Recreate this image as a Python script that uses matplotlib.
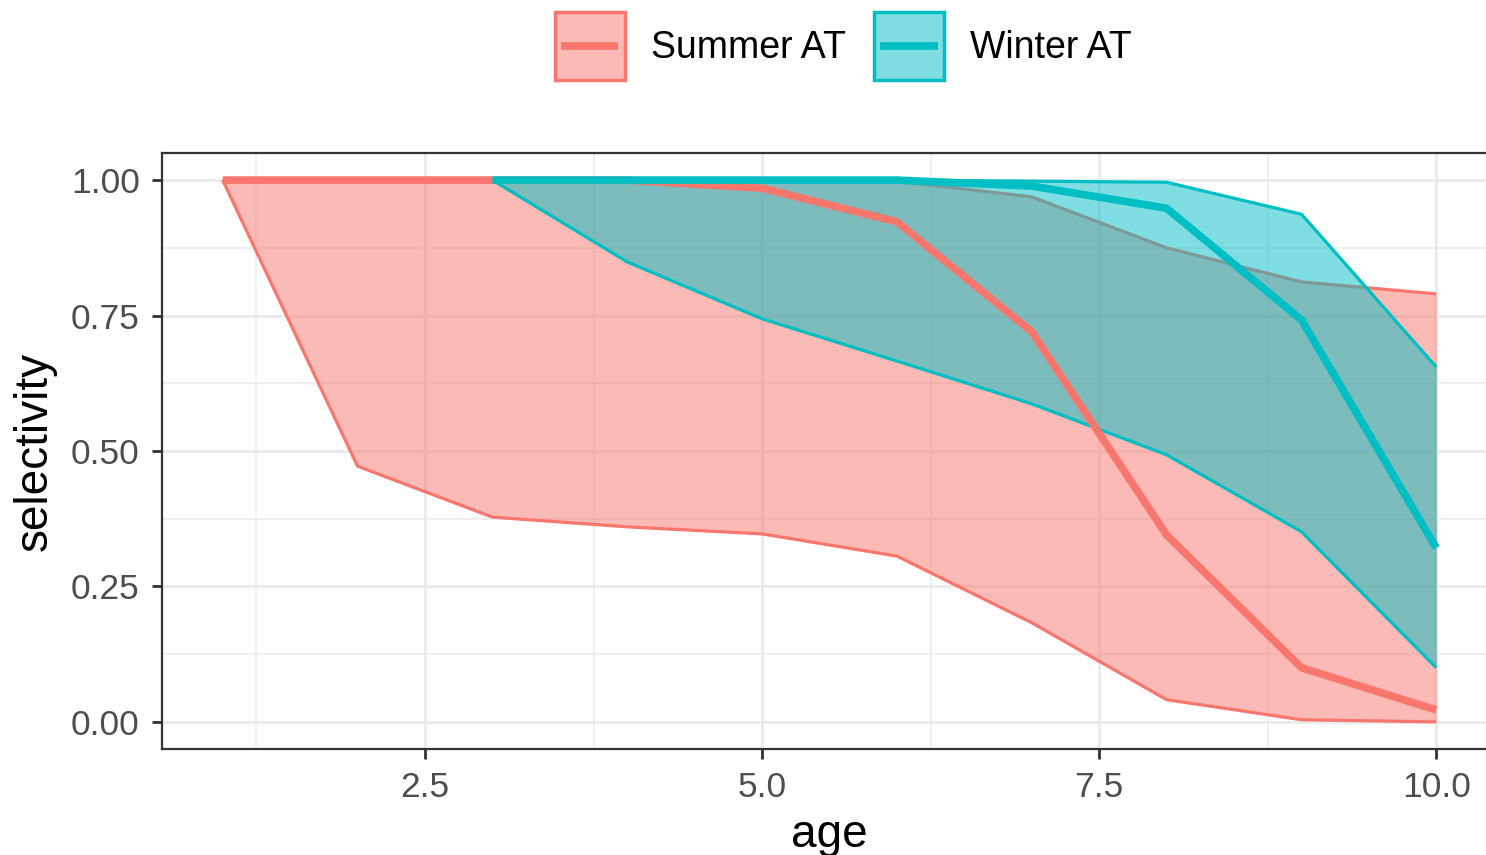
import matplotlib.pyplot as plt
from matplotlib.lines import Line2D
from matplotlib.patches import Patch, Rectangle
from matplotlib.legend_handler import HandlerBase
from matplotlib.ticker import MultipleLocator

plt.rcParams['font.family'] = ['Liberation Sans', 'DejaVu Sans']

# selectivity-at-age estimates: median with lower / upper bounds
summer_age = [1, 2, 3, 4, 5, 6, 7, 8, 9, 10]
summer_mid = [1.0, 1.0, 1.0, 1.0, 0.985, 0.923, 0.72, 0.345, 0.10, 0.022]
summer_lo = [1.0, 0.472, 0.378, 0.36, 0.347, 0.306, 0.183, 0.041, 0.004, 0.0]
summer_hi = [1.0, 1.0, 1.0, 1.0, 1.0, 0.998, 0.969, 0.875, 0.812, 0.79]

winter_age = [3, 4, 5, 6, 7, 8, 9, 10]
winter_mid = [1.0, 1.0, 1.0, 1.0, 0.989, 0.948, 0.742, 0.321]
winter_lo = [1.0, 0.849, 0.744, 0.666, 0.587, 0.493, 0.351, 0.10]
winter_hi = [1.0, 1.0, 1.0, 1.0, 0.998, 0.996, 0.937, 0.655]

SUMMER = '#F8766D'
WINTER = '#00BFC4'


class RibbonKey(HandlerBase):
    """Filled box with outline and a short line through the middle."""

    def create_artists(self, legend, orig_handle, xdescent, ydescent,
                       width, height, fontsize, trans):
        col = orig_handle.get_edgecolor()
        x0, y0 = -xdescent, -ydescent
        box = Rectangle((x0, y0), width, height, facecolor=col, alpha=0.5,
                        edgecolor='none', transform=trans)
        edge = Rectangle((x0, y0), width, height, facecolor='none',
                         edgecolor=col, lw=2.5, transform=trans)
        ym = y0 + height / 2
        line = Line2D([x0 + 0.09 * width, x0 + 0.91 * width], [ym, ym],
                      color=col, lw=5.5, solid_capstyle='butt', transform=trans)
        return [box, edge, line]


fig = plt.figure(figsize=(14.86, 8.55), dpi=100)
ax = fig.add_axes([162 / 1486, 1 - 749 / 855, (1497 - 162) / 1486, (749 - 153) / 855])

series = [
    ('Summer AT', summer_age, summer_mid, summer_lo, summer_hi, SUMMER),
    ('Winter AT', winter_age, winter_mid, winter_lo, winter_hi, WINTER),
]

# ribbons first, outlined along the top and bottom
for _, age, mid, lo, hi, col in series:
    ax.fill_between(age, lo, hi, color=col, alpha=0.5, linewidth=0, zorder=2)
    ax.plot(age, lo, color=col, lw=2.3, zorder=2, solid_capstyle='butt')
    ax.plot(age, hi, color=col, lw=2.3, zorder=2, solid_capstyle='butt')

# median lines on top
for _, age, mid, lo, hi, col in series:
    ax.plot(age, mid, color=col, lw=5.5, zorder=3, solid_capstyle='butt')

ax.set_xlim(0.55, 10.45)
ax.set_ylim(-0.05, 1.05)
ax.xaxis.set_minor_locator(MultipleLocator(1.25))
ax.yaxis.set_minor_locator(MultipleLocator(0.125))
ax.set_xticks([2.5, 5.0, 7.5, 10.0])
ax.set_xticklabels(['2.5', '5.0', '7.5', '10.0'])
ax.set_yticks([0, 0.25, 0.5, 0.75, 1.0])
ax.set_yticklabels(['0.00', '0.25', '0.50', '0.75', '1.00'])

ax.grid(which='major', color='#EBEBEB', lw=2.2, zorder=0)
ax.grid(which='minor', color='#EBEBEB', lw=1.1, zorder=0)
ax.set_axisbelow(True)
ax.tick_params(which='major', length=7, width=2, color='#333333',
               labelcolor='#4D4D4D', labelsize=25.5, pad=9)
ax.tick_params(which='minor', length=0)
for s in ax.spines.values():
    s.set_color('#333333')
    s.set_linewidth(1.6)

ax.set_xlabel('age', fontsize=33, labelpad=6)
ax.set_ylabel('selectivity', fontsize=33, labelpad=10)

handles = [Patch(facecolor=col, edgecolor=col) for *_, col in series]
fig.legend(handles, [s[0] for s in series], loc='center', bbox_to_anchor=(843 / 1486, 1 - 46 / 855),
           ncol=2, frameon=False, fontsize=27, handlelength=1.87, handleheight=2.4,
           handletextpad=0.69, columnspacing=0.75,
           handler_map={Patch: RibbonKey()})

fig.savefig('out.png', dpi=100)
